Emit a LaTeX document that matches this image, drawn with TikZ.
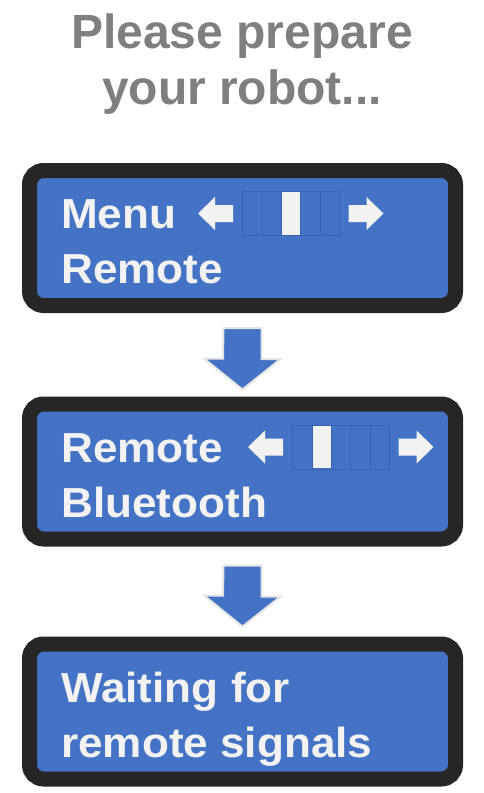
\documentclass[tikz,border=0pt]{standalone}
\usepackage{fontspec}
\setmainfont{Liberation Sans}
\newfontfamily\lcdfont{Liberation Sans}[FakeStretch=1.05]
\definecolor{lcdblue}{HTML}{4472C4}
\definecolor{lcdframe}{HTML}{262626}
\definecolor{lcdtext}{HTML}{F2F2F2}
\definecolor{cellline}{HTML}{3862AE}
\definecolor{titlegray}{HTML}{7F7F7F}
\tikzset{
  screen/.style={draw=lcdframe, fill=lcdblue, line width=15pt, rounded corners=14pt,
    minimum width=426pt, minimum height=135pt, inner sep=0pt},
  lcd/.style={text=lcdtext, font=\lcdfont\fontsize{42}{42}\selectfont\bfseries, anchor=base west, inner sep=0pt},
  headline/.style={text=titlegray, font=\fontsize{48}{48}\selectfont\bfseries, anchor=base, inner sep=0pt},
  flowarrow/.style={fill=lcdblue, draw=black!10, line width=2pt},
  cell/.style={draw=cellline, line width=0.8pt},
}
\begin{document}
\begin{tikzpicture}[x=1pt,y=-1pt]
\useasboundingbox (0,0) rectangle (484,793);
\node[headline] (title1) at (242,48) {Please prepare};
\node[headline] (title2) at (242,104) {your robot...};
% the three screens
\node[screen] (box1) at (242.5,238) {};
\node[screen] (box2) at (242.5,471.5) {};
\node[screen] (box3) at (242.5,711.5) {};
\node[lcd] (menu) at (61,228) {Menu};
\node[lcd] (remote) at (61,283) {Remote};
\node[lcd] (remote2) at (61,462) {Remote};
\node[lcd] (bt) at (61,517) {Bluetooth};
\node[lcd] (wait) at (61,702) {Waiting for};
\node[lcd] (signals) at (61,757) {remote signals};
% sliders
\foreach \wx/\wy/\sel in {198/213.5/3, 248/447/2}
{
  \begin{scope}[shift={(\wx,\wy)}]
    \fill[lcdtext] (0,0) -- (17,-16.5) -- (17,-8.5) -- (35,-8.5) -- (35,8.5) -- (17,8.5) -- (17,16.5) -- cycle;
    \fill[lcdtext] (185.5,0) -- (168.5,-16.5) -- (168.5,-8.5) -- (150.5,-8.5) -- (150.5,8.5) -- (168.5,8.5) -- (168.5,16.5) -- cycle;
    \foreach \c in {1,...,5}
      \draw[cell] ({44.5+(\c-1)*19.4},-22) rectangle ++(19.4,44);
    \fill[lcdtext] ({44.5+(\sel-1)*19.4+0.6},-21.4) rectangle ++(18.2,42.8);
  \end{scope}
}
% arrows between screens
\foreach \a/\b/\d/\e in {box1/box2/15/7, box2/box3/19/10}
  \filldraw[flowarrow] ([yshift=-\d]\a.south) ++(-19,0) -- ++(38,0) -- ++(0,31) -- ++(19,0)
    -- ([yshift=\e]\b.north) -- ++(-38.5,-31) -- ++(19,0) -- cycle;
\end{tikzpicture}
\end{document}
